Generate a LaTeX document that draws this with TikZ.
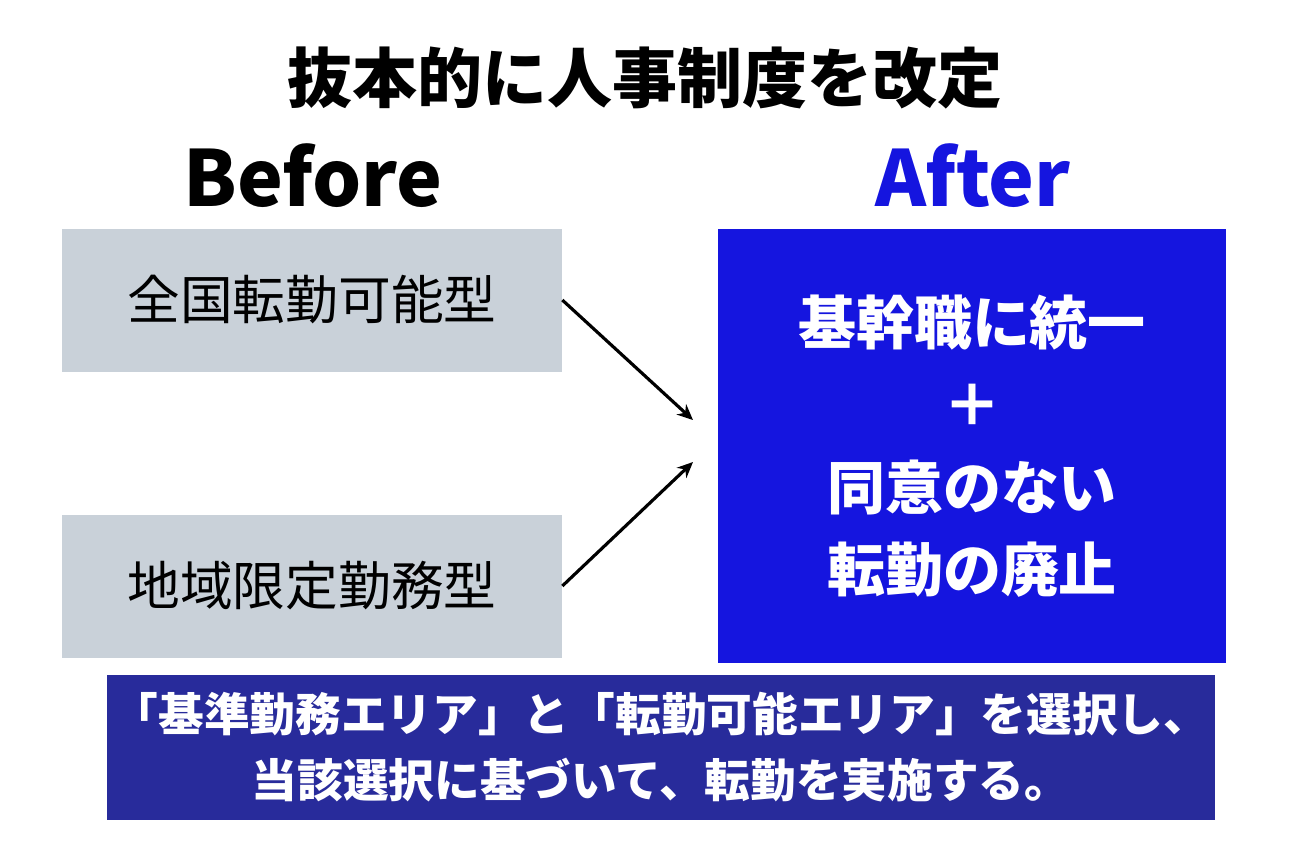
\documentclass[tikz,border=0pt]{standalone}
\usepackage{fontspec}
\setmainfont{Noto Sans CJK JP}
\usetikzlibrary{positioning, arrows.meta}
\definecolor{boxgray}{HTML}{C9D1D9}
\definecolor{afterblue}{HTML}{1515DF}
\definecolor{notenavy}{HTML}{282B9B}
\begin{document}
\begin{tikzpicture}[x=0.02cm,y=-0.02cm,
    oldbox/.style={rectangle, fill=boxgray, minimum width=10cm, minimum height=2.86cm, font=\fontsize{30}{36}\selectfont},
    arr/.style={-{Stealth[length=9pt,width=8pt]}, line width=1.8pt}
  ]
  \useasboundingbox (0,0) rectangle (1290,840);
  % headings
  \node[font=\fontsize{37}{44}\selectfont\bfseries] (title) at (645,78) {抜本的に人事制度を改定};
  \node[font=\fontsize{44}{50}\selectfont\bfseries] (before) at (313,176) {Before};
  \node[font=\fontsize{44}{50}\selectfont\bfseries, text=afterblue] (after) at (973,176) {After};

  % old systems
  \node[oldbox] (nation) at (312,300) {全国転勤可能型};
  \node[oldbox] (region) at (312,586) {地域限定勤務型};

  % new system
  \node[rectangle, fill=afterblue, minimum width=10.18cm, minimum height=8.7cm, text=white,
        align=center, font=\fontsize{33}{47}\selectfont\bfseries] (new) at (972,446)
        {基幹職に統一\\＋\\同意のない\\転勤の廃止};
  \coordinate (tip1) at (693,420);
  \coordinate (tip2) at (693,462);
  \draw[arr] (nation.east) -- (tip1);
  \draw[arr] (region.east) -- (tip2);

  % note
  \node[rectangle, fill=notenavy, minimum width=22.06cm, minimum height=2.9cm, text=white,
        align=center, font=\fontsize{26}{38}\selectfont\bfseries] (note) at (661,747)
        {「基準勤務エリア」と「転勤可能エリア」を選択し、\\当該選択に基づいて、転勤を実施する。};
\end{tikzpicture}
\end{document}
